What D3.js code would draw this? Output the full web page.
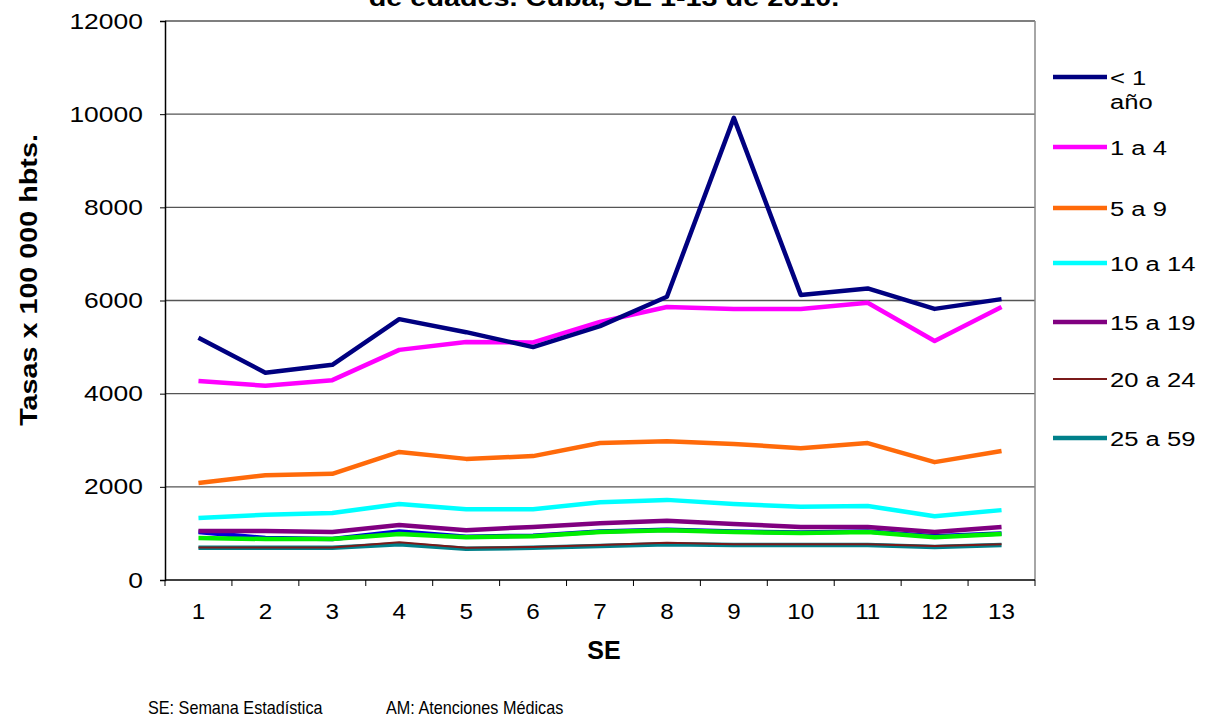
<!DOCTYPE html>
<html>
<head>
<meta charset="utf-8">
<script src="https://cdn.jsdelivr.net/npm/d3@7"></script>
<style>
  body { margin: 0; background: #fff; }
  svg { font-family: "Liberation Sans", Arial, sans-serif; }
</style>
</head>
<body>
<div id="chart"></div>
<script>
// semanas estadisticas
var weeks = [1, 2, 3, 4, 5, 6, 7, 8, 9, 10, 11, 12, 13];
var yTicks = [0, 2000, 4000, 6000, 8000, 10000, 12000];

// tasas por grupo de edad
var menor1 = [5200, 4450, 4620, 5600, 5320, 5000, 5450, 6080, 9920, 6120, 6260, 5820, 6030];
var de1a4 = [4270, 4170, 4290, 4940, 5110, 5100, 5540, 5860, 5820, 5820, 5950, 5130, 5860];
var de5a9 = [2080, 2250, 2280, 2750, 2600, 2660, 2940, 2980, 2920, 2830, 2940, 2530, 2770];
var de10a14 = [1330, 1400, 1440, 1630, 1520, 1520, 1670, 1720, 1630, 1570, 1590, 1370, 1500];
var de15a19 = [1050, 1050, 1030, 1180, 1070, 1140, 1220, 1270, 1200, 1140, 1140, 1030, 1140];
var de20a24 = [700, 700, 700, 810, 690, 710, 750, 800, 770, 770, 770, 730, 770];
var de25a59 = [690, 690, 690, 770, 670, 690, 730, 770, 750, 750, 750, 710, 750];
var azul = [1030, 900, 880, 1040, 930, 950, 1040, 1080, 1040, 1020, 1040, 940, 1000];
var verde = [900, 880, 880, 990, 920, 940, 1030, 1070, 1030, 1010, 1030, 920, 990];

var seriesNames = ["< 1 año", "1 a 4", "5 a 9", "10 a 14", "15 a 19", "20 a 24", "25 a 59", "", ""];
var seriesValues = [menor1, de1a4, de5a9, de10a14, de15a19, de20a24, de25a59, azul, verde];
var seriesColors = ["#000080", "#ff00ff", "#ff6a0a", "#00ffff", "#800080", "#7a1a1a", "#00808a", "#0000dd", "#00ee00"];
var seriesWidth = [4.5, 4.5, 4.5, 4.5, 4.5, 2, 4.5, 4.5, 4.5];

var width = 1210, height = 720;
var margin = {left: 165, right: 175, top: 21, bottom: 140};
var sx = 1.2; // el texto original sale estirado a lo ancho

var svg = d3.select("#chart").append("svg")
    .attr("width", width)
    .attr("height", height);

var x = d3.scaleBand()
    .domain(weeks)
    .range([margin.left, width - margin.right]);
var y = d3.scaleLinear()
    .domain([0, 12000])
    .range([height - margin.bottom, margin.top]);

//texto estirado en x
function sText(px, py, str, size, k){
  return svg.append("text")
      .attr("transform", "translate(" + px + "," + py + ") scale(" + (k || sx) + ",1)")
      .style("font-size", size + "px")
      .text(str);
}

// titulo (cortado arriba)
sText(604, 6, "de edades. Cuba, SE 1-13 de 2010.", 24, 1.2)
    .attr("text-anchor", "middle")
    .style("font-weight", "bold");

// gridlines
svg.append("g").selectAll("line")
    .data(yTicks.slice(1))
    .enter().append("line")
    .attr("x1", margin.left).attr("x2", width - margin.right)
    .attr("y1", function(d){ return y(d); })
    .attr("y2", function(d){ return y(d); })
    .attr("stroke", "#555").attr("stroke-width", 1.3);

// borde derecho
svg.append("line")
    .attr("x1", width - margin.right).attr("x2", width - margin.right)
    .attr("y1", margin.top).attr("y2", height - margin.bottom)
    .attr("stroke", "#888").attr("stroke-width", 1.5);

// eje y
var yAxis = svg.append("g")
    .attr("transform", "translate(" + margin.left + ",0)")
    .call(d3.axisLeft(y).tickValues(yTicks).tickSize(5).tickPadding(13.5).tickFormat(d3.format("d")));
yAxis.select(".domain").attr("stroke", "#000").attr("stroke-width", 1.5);
yAxis.selectAll(".tick line").attr("stroke", "#000");
yAxis.selectAll("text")
    .attr("transform", "scale(" + sx + ",1)")
    .style("font-size", "22px").attr("fill", "#000")
    .style("font-family", "Liberation Sans, Arial, sans-serif");

// eje x: ticks entre categorias
var xg = svg.append("g")
    .attr("transform", "translate(0," + (height - margin.bottom) + ")");
xg.append("line")
    .attr("x1", margin.left).attr("x2", width - margin.right)
    .attr("stroke", "#000").attr("stroke-width", 1.5);
var bounds = weeks.map(function(d){ return x(d); }).concat([x.range()[1]]);
xg.selectAll("line.tk").data(bounds).enter().append("line")
    .attr("class", "tk")
    .attr("x1", function(d){ return d; }).attr("x2", function(d){ return d; })
    .attr("y1", 0).attr("y2", 6)
    .attr("stroke", "#000");
xg.selectAll("text").data(weeks).enter().append("text")
    .attr("transform", function(d){
      return "translate(" + (x(d) + x.bandwidth() / 2) + ",39) scale(1.1,1)";
    })
    .attr("text-anchor", "middle")
    .style("font-size", "22px")
    .text(function(d){ return d; });

// titulos de ejes
svg.append("text")
    .attr("transform", "translate(37,280) rotate(-90) scale(1.25,1)")
    .attr("text-anchor", "middle")
    .style("font-size", "23px").style("font-weight", "bold")
    .text("Tasas x 100 000 hbts.");
svg.append("text")
    .attr("x", 604).attr("y", 659)
    .attr("text-anchor", "middle")
    .style("font-size", "25px").style("font-weight", "bold")
    .text("SE");

// lineas
var line = d3.line()
    .x(function(d, i){ return x(weeks[i]) + x.bandwidth() / 2; })
    .y(function(d){ return y(d); });

var order = [7, 8, 6, 5, 4, 3, 2, 1, 0];
order.forEach(function(k){
  svg.append("path")
      .attr("d", line(seriesValues[k]))
      .attr("fill", "none")
      .attr("stroke", seriesColors[k])
      .attr("stroke-width", seriesWidth[k])
      .attr("stroke-linejoin", "round");
});

// leyenda
var legY = [77, 147, 208, 263, 322, 379, 438];
for (var i = 0; i < 7; i++) {
  svg.append("line")
      .attr("x1", 1053).attr("x2", 1107)
      .attr("y1", legY[i]).attr("y2", legY[i])
      .attr("stroke", seriesColors[i])
      .attr("stroke-width", seriesWidth[i]);
  if (i == 0) {
    sText(1110, legY[i] + 8, "< 1", 21, 1.22);
    sText(1110, legY[i] + 32, "año", 21, 1.22);
  } else {
    sText(1110, legY[i] + 8, seriesNames[i], 21, 1.22);
  }
}

// nota al pie
sText(148, 714, "SE: Semana Estadística", 18, 0.9);
sText(386, 714, "AM: Atenciones Médicas", 18, 0.9);
</script>
</body>
</html>
